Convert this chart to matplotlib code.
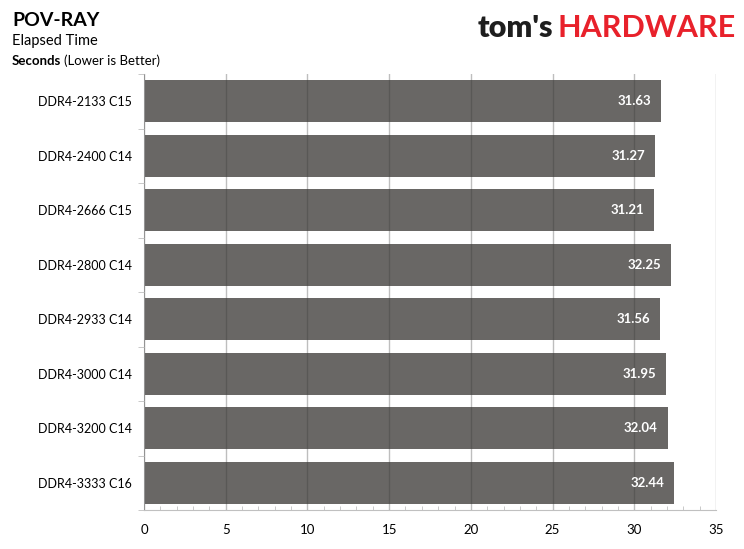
import matplotlib
matplotlib.use("Agg")
import matplotlib.pyplot as plt
from matplotlib.ticker import MultipleLocator

# data
configs = ["DDR4-2133 C15", "DDR4-2400 C14", "DDR4-2666 C15", "DDR4-2800 C14",
           "DDR4-2933 C14", "DDR4-3000 C14", "DDR4-3200 C14", "DDR4-3333 C16"]
seconds = [31.63, 31.27, 31.21, 32.25, 31.56, 31.95, 32.04, 32.44]
x_ticks = [0, 5, 10, 15, 20, 25, 30, 35]

plt.rcParams['font.family'] = ['Lato', 'DejaVu Sans']

fig = plt.figure(figsize=(7.44, 5.49), dpi=100)
ax = fig.add_axes([144 / 744, 1 - 510 / 549, (716 - 144) / 744, (510 - 74) / 549])

ypos = list(range(len(configs)))
bars = ax.barh(ypos, seconds, height=0.77, color='#696765', zorder=1)
ax.set_ylim(len(configs) - 0.5, -0.5)
ax.set_xlim(0, 35)

# value labels inside the bars
for b, v in zip(bars, seconds):
    ax.text(v - 0.6, b.get_y() + b.get_height() / 2, f"{v:.2f}",
            ha='right', va='center', color='white', fontsize=9.5,
            fontweight='bold', zorder=3)

# grid drawn over the bars, darker where it crosses them
ax.set_xticks(x_ticks)
ax.xaxis.set_minor_locator(MultipleLocator(1))
ax.grid(axis='x', which='major', color='#3a3a3a', alpha=0.33, linewidth=1, zorder=2)
ax.set_axisbelow(False)

ax.set_yticks(ypos)
ax.set_yticklabels(configs, fontsize=9)
ax.set_yticks([i - 0.5 for i in range(len(configs) + 1)], minor=True)
ax.tick_params(axis='y', which='major', length=0, pad=8.6)
ax.tick_params(axis='y', which='minor', length=4, color='#c0c0c0', direction='out')
ax.tick_params(axis='x', which='major', length=0, pad=10, labelsize=9.5)
ax.tick_params(axis='x', which='minor', length=3, color='#c0c0c0', direction='in')

for side in ['top', 'right']:
    ax.spines[side].set_visible(False)
for side in ['left', 'bottom']:
    ax.spines[side].set_color('#c0c0c0')

# titles
fig.text(12 / 744, 1 - 20 / 549, "POV-RAY", fontsize=14, fontweight='bold',
         va='center', ha='left')
fig.text(12 / 744, 1 - 41 / 549, "Elapsed Time", fontsize=10.5, va='center', ha='left')
t = fig.text(12 / 744, 1 - 61 / 549, "Seconds", fontsize=9.5, fontweight='bold',
             va='center', ha='left')
fig.canvas.draw()
bb = t.get_window_extent()
fig.text(bb.x1 / 744 + 3 / 744, 1 - 61 / 549, "(Lower is Better)", fontsize=9.5,
         va='center', ha='left')

# logo
logo = fig.text(478 / 744, 1 - 28 / 549, "tom's", fontsize=22, fontweight='heavy',
                color='#1e1e1e', va='center', ha='left')
fig.canvas.draw()
lb = logo.get_window_extent()
fig.text(lb.x1 / 744 + 4 / 744, 1 - 28 / 549, "HARDWARE", fontsize=22,
         fontweight='bold', color='#e8212b', va='center', ha='left')

fig.savefig("out.png", dpi=100)
